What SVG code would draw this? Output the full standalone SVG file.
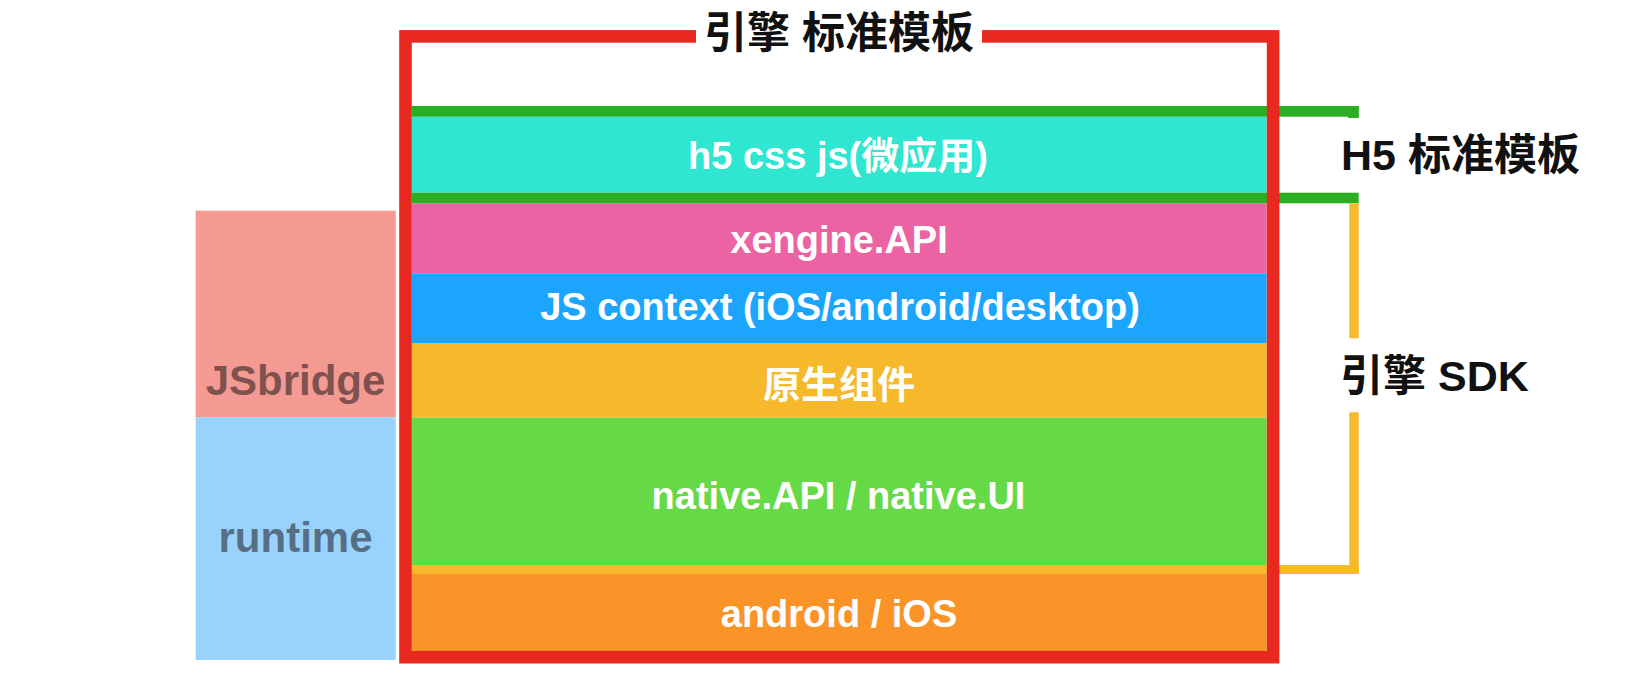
<svg xmlns="http://www.w3.org/2000/svg" width="1648" height="680" viewBox="0 0 1648 680">
<style>
text{font-family:"Liberation Sans","Noto Sans CJK SC",sans-serif;font-weight:bold}
.band{font-size:38px;fill:#ffffff;text-anchor:middle}
.side{font-size:42px;text-anchor:middle}
.lbl{font-size:43px;fill:#111111}
.grn{fill:#2AAE22}
.ylw{fill:#F6B92C}
</style>
<rect width="1648" height="680" fill="#ffffff"/>
<g id="jsbridge">
<rect x="195.7" y="210.7" width="200" height="206.6" fill="#F39A93"/>
<text class="side" x="295.5" y="395" fill="#80524F">JSbridge</text>
</g>
<g id="runtime">
<rect x="195.7" y="417.3" width="200" height="242.7" fill="#99D3FD"/>
<text class="side" x="295.5" y="551.7" fill="#566F84">runtime</text>
</g>
<g id="h5-layer">
<rect x="411.7" y="116.7" width="855" height="76" fill="#2FE6D1"/>
<text class="band" x="838" y="169">h5 css js(微应用)</text>
</g>
<g id="xengine-api">
<rect x="411.7" y="203.3" width="855" height="70" fill="#EC63A4"/>
<text class="band" x="839" y="252.5">xengine.API</text>
</g>
<g id="js-context">
<rect x="411.7" y="273.3" width="855" height="69.7" fill="#1BA5FC"/>
<text class="band" x="840" y="320">JS context (iOS/android/desktop)</text>
</g>
<g id="native-components">
<rect x="411.7" y="343" width="855" height="74.7" fill="#F6B92C"/>
<text class="band" x="839" y="397.5">原生组件</text>
</g>
<g id="native-api">
<rect x="411.7" y="417.7" width="855" height="147.3" fill="#66D946"/>
<text class="band" x="838.5" y="509">native.API / native.UI</text>
</g>
<g id="android-ios">
<rect x="411.7" y="574" width="855" height="77" fill="#FA9428"/>
<text class="band" x="839" y="626.5">android / iOS</text>
</g>
<g id="connectors">
<rect class="grn" x="411.7" y="106" width="947" height="10.7"/>
<rect class="grn" x="1348" y="106" width="10.7" height="12"/>
<rect class="grn" x="411.7" y="192.7" width="947" height="10.6"/>
<rect class="ylw" x="411.7" y="565" width="947" height="9"/>
<rect class="ylw" x="1349.3" y="203.3" width="9.4" height="135"/>
<rect class="ylw" x="1349.3" y="412.3" width="9.4" height="161.7"/>
</g>
<g id="engine-frame">
<rect x="405.5" y="36.4" width="867.6" height="620.8" fill="none" stroke="#E92820" stroke-width="12.6"/>
<rect x="696" y="26" width="286" height="22" fill="#ffffff"/>
<text class="lbl" x="839" y="48" text-anchor="middle">引擎 标准模板</text>
</g>
<g id="h5-template-label">
<text class="lbl" x="1341" y="170">H5 标准模板</text>
</g>
<g id="engine-sdk-label">
<text class="lbl" x="1340" y="390.5">引擎 SDK</text>
</g>
</svg>
